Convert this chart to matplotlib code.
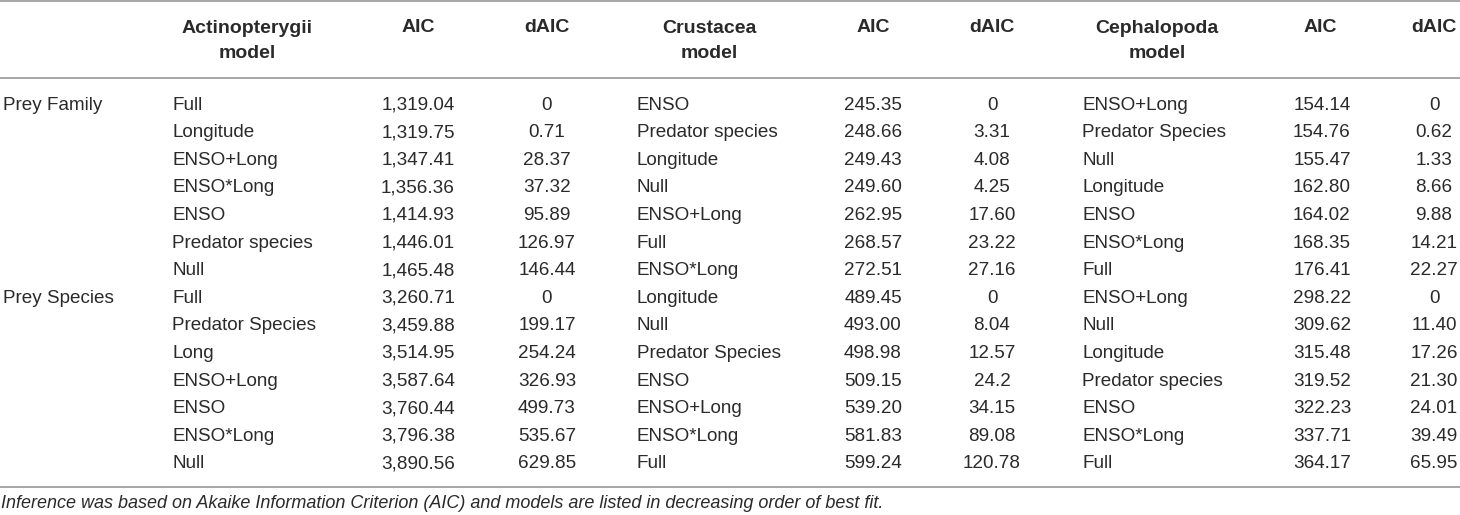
import matplotlib
matplotlib.use("Agg")
from matplotlib import pyplot as plt

# table content
groups = ["Prey Family", "Prey Species"]

actino_model = ["Full", "Longitude", "ENSO+Long", "ENSO*Long", "ENSO", "Predator species", "Null",
                "Full", "Predator Species", "Long", "ENSO+Long", "ENSO", "ENSO*Long", "Null"]
actino_aic = ["1,319.04", "1,319.75", "1,347.41", "1,356.36", "1,414.93", "1,446.01", "1,465.48",
              "3,260.71", "3,459.88", "3,514.95", "3,587.64", "3,760.44", "3,796.38", "3,890.56"]
actino_daic = ["0", "0.71", "28.37", "37.32", "95.89", "126.97", "146.44",
               "0", "199.17", "254.24", "326.93", "499.73", "535.67", "629.85"]

crust_model = ["ENSO", "Predator species", "Longitude", "Null", "ENSO+Long", "Full", "ENSO*Long",
               "Longitude", "Null", "Predator Species", "ENSO", "ENSO+Long", "ENSO*Long", "Full"]
crust_aic = ["245.35", "248.66", "249.43", "249.60", "262.95", "268.57", "272.51",
             "489.45", "493.00", "498.98", "509.15", "539.20", "581.83", "599.24"]
crust_daic = ["0", "3.31", "4.08", "4.25", "17.60", "23.22", "27.16",
              "0", "8.04", "12.57", "24.2", "34.15", "89.08", "120.78"]

ceph_model = ["ENSO+Long", "Predator Species", "Null", "Longitude", "ENSO", "ENSO*Long", "Full",
              "ENSO+Long", "Null", "Longitude", "Predator species", "ENSO", "ENSO*Long", "Full"]
ceph_aic = ["154.14", "154.76", "155.47", "162.80", "164.02", "168.35", "176.41",
            "298.22", "309.62", "315.48", "319.52", "322.23", "337.71", "364.17"]
ceph_daic = ["0", "0.62", "1.33", "8.66", "9.88", "14.21", "22.27",
             "0", "11.40", "17.26", "21.30", "24.01", "39.49", "65.95"]

headers = ["Actinopterygii\nmodel", "AIC", "dAIC", "Crustacea\nmodel", "AIC", "dAIC",
           "Cephalopoda\nmodel", "AIC", "dAIC"]
note = ("Inference was based on Akaike Information Criterion (AIC) and models are listed "
        "in decreasing order of best fit.")

plt.rcParams['font.family'] = ['Liberation Sans', 'DejaVu Sans']
txt = '#2a2a2a'
linec = '#a6a6a6'
fs = 13.6

fig = plt.figure(figsize=(14.6, 5.15), dpi=100)
ax = fig.add_axes([0, 0, 1, 1])
ax.set_xlim(0, 1460)
ax.set_ylim(515, 0)
ax.axis('off')

# column layout: (values, body x, alignment, header x-centre)
cols = [
    (actino_model, 172, 'left', 247),
    (actino_aic, 418, 'center', 418),
    (actino_daic, 547, 'center', 547),
    (crust_model, 637, 'left', 709),
    (crust_aic, 873, 'center', 873),
    (crust_daic, 992, 'center', 992),
    (ceph_model, 1082, 'left', 1157),
    (ceph_aic, 1322, 'center', 1320),
    (ceph_daic, 1434, 'center', 1434),
]

y0 = 105
dy = 27.6

for i, (vals, x, ha, hx) in enumerate(cols):
    if '\n' in headers[i]:
        ax.text(hx, 41, headers[i], ha='center', va='center', fontsize=14, fontweight='bold',
                color=txt, linespacing=1.55)
    else:
        ax.text(hx, 28, headers[i], ha='center', va='center', fontsize=14, fontweight='bold',
                color=txt)
    for r, v in enumerate(vals):
        ax.text(x, y0 + r * dy, v, ha=ha, va='center', fontsize=fs, color=txt)

for g, name in enumerate(groups):
    ax.text(3, y0 + g * 7 * dy, name, ha='left', va='center', fontsize=fs, color=txt)

for yl in [1, 78, 487]:
    ax.plot([0, 1460], [yl, yl], color=linec, lw=1.4, solid_capstyle='butt')

ax.text(1, 503, note, ha='left', va='center', fontsize=13, style='italic', color=txt)

fig.savefig('out.png', dpi=100)
